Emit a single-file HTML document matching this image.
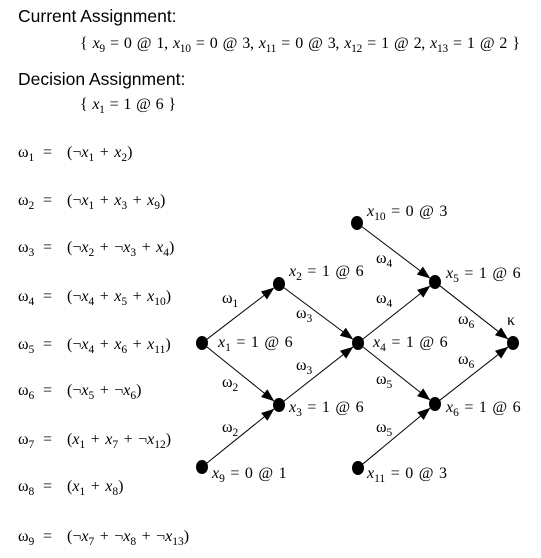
<!DOCTYPE html>
<html><head><meta charset="utf-8"><style>
html,body{margin:0;padding:0;background:#fff;}
svg{display:block;}
text{white-space:pre;}
.s{font-family:"Liberation Sans",sans-serif;font-size:17.5px;}
.m{font-family:"Liberation Serif",serif;font-size:16px;word-spacing:1.5px;}
</style></head><body>
<svg id="cv" width="541" height="558" viewBox="0 0 541 558" xmlns="http://www.w3.org/2000/svg">
<defs><marker id="ah" markerUnits="userSpaceOnUse" markerWidth="14" markerHeight="10" refX="13" refY="5" orient="auto"><path d="M0,0 L13,5 L0,10 z" fill="#000"/></marker></defs>
<text class="s" x="18" y="22">Current Assignment:</text>
<text class="s" x="18" y="85">Decision Assignment:</text>
<g id="edges"></g>
<g id="nodes"></g>
<g id="labels"></g>
</svg>
<script>
const NS="http://www.w3.org/2000/svg";
const svg=document.getElementById('cv');
function mk(str,x,y,parent,len){
  const t=document.createElementNS(NS,'text');
  t.setAttribute('class','m');t.setAttribute('x',x);t.setAttribute('y',y);
  if(len){t.setAttribute('textLength',len);t.setAttribute('lengthAdjust','spacing');}
  let buf='',pend=false;
  const add=(txt,italic,sub)=>{
    const s=document.createElementNS(NS,'tspan');
    if(italic)s.setAttribute('font-style','italic');
    let dy=0;
    if(pend){dy-=4;pend=false;}
    if(sub){dy+=4;s.setAttribute('font-size','11.5');pend=true;}
    if(dy)s.setAttribute('dy',dy);
    s.textContent=txt;t.appendChild(s);
  };
  const flush=()=>{if(buf){add(buf,false,false);buf='';}};
  for(let i=0;i<str.length;i++){
    const c=str[i];
    if(c==='x'){flush();add('x',true,false);}
    else if(c==='_'){flush();let d='';i++;while(i<str.length&&/[0-9]/.test(str[i])){d+=str[i];i++;}i--;add(d,false,true);}
    else buf+=c;
  }
  flush();
  (parent||svg).appendChild(t);
  return t;
}
let e;
e=mk('{ x_9 = 0 @ 1, x_10 = 0 @ 3, x_11 = 0 @ 3, x_12 = 1 @ 2, x_13 = 1 @ 2 }',80,48,svg,440);


e=mk('{ x_1 = 1 @ 6 }',80,109,svg,96);



const clauses=['(¬x_1 + x_2)','(¬x_1 + x_3 + x_9)','(¬x_2 + ¬x_3 + x_4)','(¬x_4 + x_5 + x_10)','(¬x_4 + x_6 + x_11)','(¬x_5 + ¬x_6)','(x_1 + x_7 + ¬x_12)','(x_1 + x_8)','(¬x_7 + ¬x_8 + ¬x_13)'];
const clauseY=[157,205,252,301,349,395,444,491,541];
clauses.forEach((c,i)=>{
  const a=mk('ω_'+(i+1),18,clauseY[i]);
  
  
  const b=mk('=',43,clauseY[i]);
  
  
  const d=mk(c,67,clauseY[i]);
  
  
});

const nodeNames=['x1','x2','x3','x4','x5','x6','x9','x10','x11','kappa'];
const nodeX=[202,279,279,358,435,435,202,357,358,513];
const nodeY=[343,284,405,343,282,404,467,223,468,343];
const edgeFrom=['x1','x1','x2','x3','x9','x4','x4','x10','x11','x5','x6'];
const edgeTo=['x2','x3','x4','x4','x3','x5','x6','x5','x6','kappa','kappa'];
const eg=document.getElementById('edges'),ng=document.getElementById('nodes'),lg=document.getElementById('labels');
edgeFrom.forEach((f,i)=>{
  const a=nodeNames.indexOf(f),b=nodeNames.indexOf(edgeTo[i]);
  const x1=nodeX[a],y1=nodeY[a],x2=nodeX[b],y2=nodeY[b];
  const L=Math.hypot(x2-x1,y2-y1),ux=(x2-x1)/L,uy=(y2-y1)/L;
  const l=document.createElementNS(NS,'line');
  l.setAttribute('x1',x1+ux*5);l.setAttribute('y1',y1+uy*5);
  l.setAttribute('x2',x2-ux*6);l.setAttribute('y2',y2-uy*6);
  l.setAttribute('stroke','#000');l.setAttribute('stroke-width','1');
  l.setAttribute('marker-end','url(#ah)');
  
  
  eg.appendChild(l);
});
nodeNames.forEach((n,i)=>{
  const c=document.createElementNS(NS,'ellipse');
  c.setAttribute('cx',nodeX[i]);c.setAttribute('cy',nodeY[i]);
  c.setAttribute('rx','6');c.setAttribute('ry','7');c.setAttribute('fill','#000');
  
  
  ng.appendChild(c);
});
const labText=['x_10 = 0 @ 3','x_2 = 1 @ 6','x_5 = 1 @ 6','x_1 = 1 @ 6','x_4 = 1 @ 6','κ','x_3 = 1 @ 6','x_6 = 1 @ 6','x_9 = 0 @ 1','x_11 = 0 @ 3',
 'ω_4','ω_1','ω_3','ω_4','ω_6','ω_3','ω_2','ω_5','ω_6','ω_2','ω_5'];
const labX=[367,289,446,218,373,507,289,446,212,367, 376,222,296,376,458,296,222,376,458,222,376];
const labY=[216,276,278,347,347,325,412,412,478,478, 263,303,318,303,324,370,387,384,364,432,432];
labText.forEach((s,i)=>{
  const t=mk(s,labX[i],labY[i],lg);
  
  
});
</script>
</body></html>
